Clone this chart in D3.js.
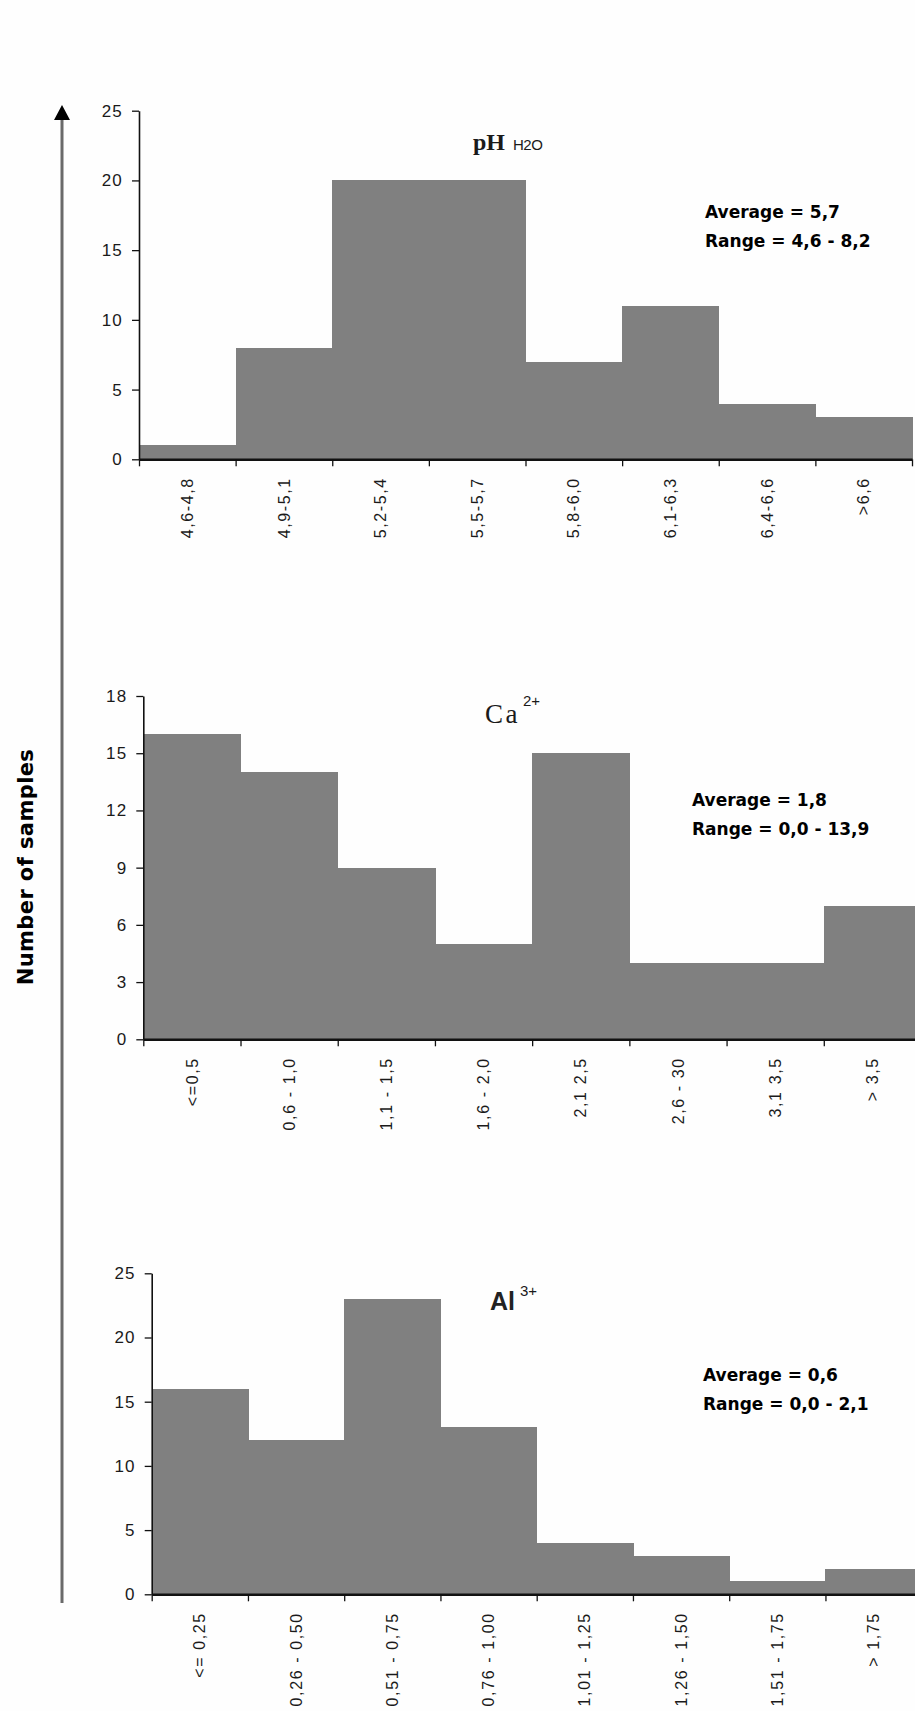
<!DOCTYPE html>
<html>
<head>
<meta charset="utf-8">
<script src="https://cdn.jsdelivr.net/npm/d3@7"></script>
<style>
  body { margin: 0; background: #fff; }
  svg { display: block; }
  .tick text { font-family: "Liberation Sans", Arial, sans-serif; }
</style>
</head>
<body>
<div id="chart"></div>
<script>
// --- data ---
const phBins = ["4,6-4,8", "4,9-5,1", "5,2-5,4", "5,5-5,7", "5,8-6,0", "6,1-6,3", "6,4-6,6", ">6,6"];
const phCounts = [1, 8, 20, 20, 7, 11, 4, 3];
const phTicks = [0, 5, 10, 15, 20, 25];
const phStats = ["Average = 5,7", "Range = 4,6 - 8,2"];

const caBins = ["<=0,5", "0,6 - 1,0", "1,1 - 1,5", "1,6 - 2,0", "2,1 2,5", "2,6 - 30", "3,1 3,5", "> 3,5"];
const caCounts = [16, 14, 9, 5, 15, 4, 4, 7];
const caTicks = [0, 3, 6, 9, 12, 15, 18];
const caStats = ["Average = 1,8", "Range = 0,0 - 13,9"];

const alBins = ["<= 0,25", "0,26 - 0,50", "0,51 - 0,75", "0,76 - 1,00", "1,01 - 1,25", "1,26 - 1,50", "1,51 - 1,75", "> 1,75"];
const alCounts = [16, 12, 23, 13, 4, 3, 1, 2];
const alTicks = [0, 5, 10, 15, 20, 25];
const alStats = ["Average = 0,6", "Range = 0,0 - 2,1"];

const yLabel = "Number of samples";

const W = 915, H = 1711;
const svg = d3.select("#chart").append("svg")
  .attr("width", W).attr("height", H)
  .attr("viewBox", `0 0 ${W} ${H}`);

svg.append("rect").attr("width", W).attr("height", H).attr("fill", "#fefefe");

// panels: layout only
const panels = [
  { bins: phBins, counts: phCounts, ticks: phTicks, stats: phStats,
    x0: 139, x1: 912, top: 110.7, base: 459.3,
    title: { x: 473, y: 150 }, statPos: { x: 705, y: 218 } },
  { bins: caBins, counts: caCounts, ticks: caTicks, stats: caStats,
    x0: 143.3, x1: 921, top: 696, base: 1039.3,
    title: { x: 485, y: 723 }, statPos: { x: 692, y: 806 } },
  { bins: alBins, counts: alCounts, ticks: alTicks, stats: alStats,
    x0: 151.7, x1: 921.7, top: 1273.3, base: 1594.3,
    title: { x: 490, y: 1310 }, statPos: { x: 703, y: 1381 } }
];

panels.forEach((p, i) => {
  const g = svg.append("g");
  const x = d3.scaleBand().domain(p.bins).range([p.x0, p.x1]).padding(0);
  const xEdge = d3.scaleLinear().domain([0, p.bins.length]).range([p.x0, p.x1]);
  const y = d3.scaleLinear().domain([0, d3.max(p.ticks)]).range([p.base, p.top]);

  g.selectAll("rect.bar")
    .data(p.counts)
    .join("rect")
    .attr("class", "bar")
    .attr("x", (d, j) => x(p.bins[j]))
    .attr("width", x.bandwidth() + 0.6)
    .attr("y", d => y(d))
    .attr("height", d => y(0) - y(d))
    .attr("fill", "#808080")
    .attr("shape-rendering", "crispEdges");

  // y axis
  const yAxis = g.append("g")
    .attr("transform", `translate(${p.x0},0)`)
    .call(d3.axisLeft(y).tickValues(p.ticks).tickSize(7).tickPadding(9).tickSizeOuter(0));
  yAxis.select(".domain").attr("stroke", "#111").attr("stroke-width", 1.6);
  yAxis.selectAll(".tick line").attr("stroke", "#111").attr("stroke-width", 1.3);
  yAxis.selectAll(".tick text")
    .attr("font-size", 17).attr("fill", "#1a1a1a")
    .attr("letter-spacing", 1.2);

  // x axis: ticks at bin edges
  const xAxis = g.append("g")
    .attr("transform", `translate(0,${p.base})`)
    .call(d3.axisBottom(xEdge).tickValues(d3.range(p.bins.length + 1))
      .tickFormat("").tickSize(7).tickSizeOuter(0));
  xAxis.select(".domain").attr("stroke", "#111").attr("stroke-width", 2.4);
  xAxis.selectAll(".tick line").attr("stroke", "#111").attr("stroke-width", 1.3);

  // category labels, rotated
  g.selectAll("text.cat")
    .data(p.bins)
    .join("text")
    .attr("class", "cat")
    .attr("transform", d => `translate(${x(d) + x.bandwidth() / 2},${p.base + 18}) rotate(-90)`)
    .attr("text-anchor", "end")
    .attr("dy", "0.35em")
    .attr("font-family", "Liberation Sans, Arial, sans-serif")
    .attr("font-size", 16)
    .attr("letter-spacing", 1.6)
    .attr("fill", "#1a1a1a")
    .text(d => d);

  // stats text
  g.selectAll("text.stat")
    .data(p.stats)
    .join("text")
    .attr("class", "stat")
    .attr("x", p.statPos.x)
    .attr("y", (d, j) => p.statPos.y + j * 28.5)
    .attr("font-family", "DejaVu Sans, sans-serif")
    .attr("font-weight", "bold")
    .attr("font-size", 17)
    .attr("letter-spacing", 0)
    .attr("fill", "#000")
    .text(d => d);

  // titles
  const t = g.append("text").attr("x", p.title.x).attr("y", p.title.y).attr("fill", "#1a1a1a");
  if (i === 0) {
    t.append("tspan").attr("font-family", "Liberation Serif, Times New Roman, serif")
      .attr("font-weight", "bold").attr("font-size", 24).text("pH");
    t.append("tspan").attr("dx", 8).attr("font-family", "Liberation Sans, Arial, sans-serif")
      .attr("font-size", 15).attr("letter-spacing", -0.5).text("H2O");
  } else if (i === 1) {
    t.append("tspan").attr("font-family", "Liberation Serif, Times New Roman, serif")
      .attr("font-size", 27).attr("letter-spacing", 2.5).text("Ca");
    t.append("tspan").attr("dx", 3).attr("dy", -17).attr("font-family", "Liberation Sans, Arial, sans-serif")
      .attr("font-size", 15).text("2+");
  } else {
    t.append("tspan").attr("font-family", "Liberation Sans, Arial, sans-serif")
      .attr("font-weight", "bold").attr("font-size", 25).attr("fill", "#222").text("Al");
    t.append("tspan").attr("dx", 5).attr("dy", -14).attr("font-family", "Liberation Sans, Arial, sans-serif")
      .attr("font-size", 15).text("3+");
  }
});

// long arrow on the left
svg.append("line")
  .attr("x1", 62).attr("x2", 62)
  .attr("y1", 1603).attr("y2", 116)
  .attr("stroke", "#6a6a6a").attr("stroke-width", 3);
svg.append("path")
  .attr("d", d3.line()([[62, 105], [54, 120], [70, 120]]) + "Z")
  .attr("fill", "#000");

svg.append("text")
  .attr("transform", "translate(33,867) rotate(-90)")
  .attr("text-anchor", "middle")
  .attr("font-family", "DejaVu Sans, sans-serif")
  .attr("font-weight", "bold")
  .attr("font-size", 21)
  .attr("letter-spacing", 0.4)
  .attr("fill", "#000")
  .text(yLabel);
</script>
</body>
</html>
